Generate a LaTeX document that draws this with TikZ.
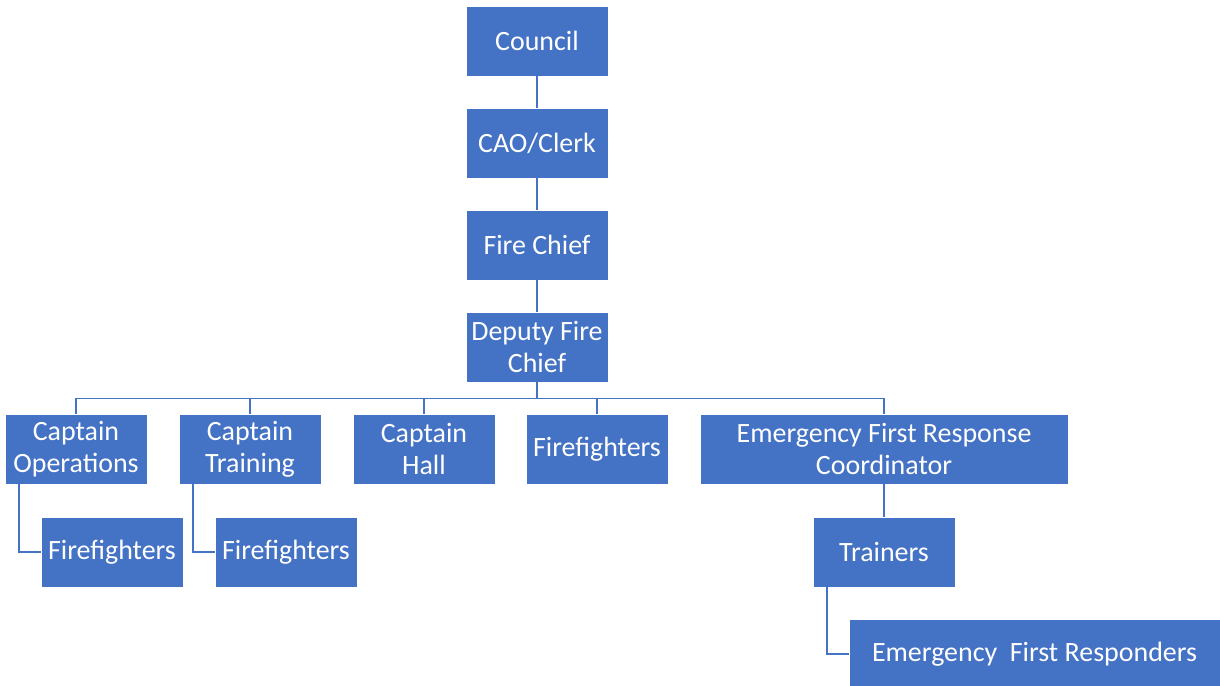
\documentclass[tikz,border=0pt]{standalone}
\usepackage{fontspec}
\setmainfont{Carlito}
\usepackage{tikz}
\usetikzlibrary{positioning,calc}

\definecolor{orgblue}{HTML}{4472C4}

\begin{document}
\begin{tikzpicture}[
  font=\fontsize{15.9}{18.3}\selectfont,
  box/.style={draw=white, line width=0.4pt, fill=orgblue, text=white, align=center,
    inner sep=2pt, outer sep=0pt, minimum width=2.84cm, minimum height=1.4cm},
  wide/.style={box, minimum width=7.36cm},
  link/.style={draw=orgblue, line width=0.8pt}
]
\useasboundingbox (0,0) rectangle (24.4,-13.72);

% chain of command
\node[box] (council) at (10.74,-0.82) {Council};
\node[box, below=0.64cm of council] (cao) {CAO/Clerk};
\node[box, below=0.64cm of cao] (chief) {Fire Chief};
\node[box, below=0.64cm of chief] (deputy) {Deputy Fire\\Chief};

% captains row
\node[box, anchor=north west] (capOps) at (0.1,-8.28) {Captain\\Operations};
\node[box, right=0.64cm of capOps] (capTrain) {Captain\\Training};
\node[box, right=0.64cm of capTrain] (capHall) {Captain\\Hall};
\node[box, right=0.62cm of capHall] (ffDep) {Firefighters};
\node[wide, right=0.64cm of ffDep] (efrc) {Emergency First Response\\Coordinator};

% lower levels
\node[box, below=0.66cm of capOps.south west, anchor=north west, xshift=0.72cm] (ffOps) {Firefighters};
\node[box, below=0.66cm of capTrain.south west, anchor=north west, xshift=0.72cm] (ffTrain) {Firefighters};
\node[box, below=0.66cm of efrc] (trainers) {Trainers};
\node[wide, minimum width=7.42cm, below=0.64cm of trainers.south west, anchor=north west, xshift=0.72cm] (efr) {Emergency\ \ First Responders};

\draw[link] (council) -- (cao);
\draw[link] (cao) -- (chief);
\draw[link] (chief) -- (deputy);
\foreach \c in {capOps,capTrain,capHall,ffDep,efrc}
  \draw[link] (deputy.south) -- ++(0,-0.33) -| (\c.north);
\draw[link] ($(capOps.south west)+(0.28,0)$) |- (ffOps.west);
\draw[link] ($(capTrain.south west)+(0.28,0)$) |- (ffTrain.west);
\draw[link] (efrc) -- (trainers);
\draw[link] ($(trainers.south west)+(0.28,0)$) |- (efr.west);
\end{tikzpicture}
\end{document}
